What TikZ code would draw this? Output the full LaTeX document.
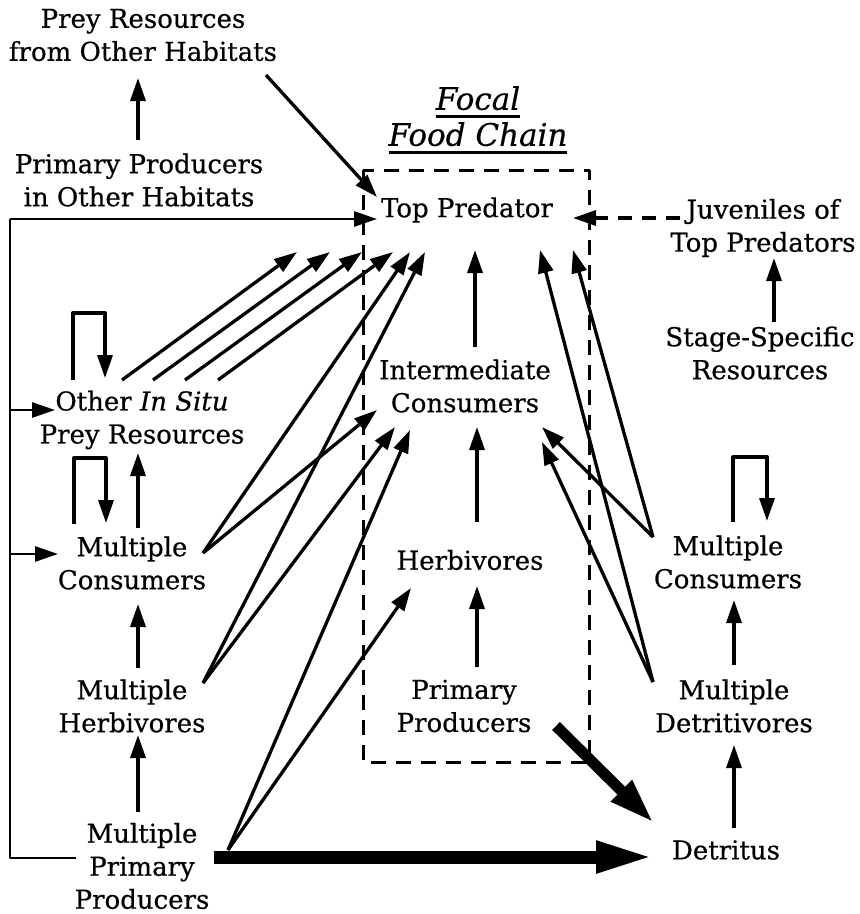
\documentclass[tikz,border=0pt]{standalone}
\usepackage{fontspec}
\setmainfont[FakeBold=0.5]{DejaVu Serif}
\usetikzlibrary{arrows.meta}
\newcommand{\webfont}{\fontsize{26}{33}\selectfont}
\newcommand{\ulbar}[1]{\setbox0\hbox{#1}\rlap{\rule[-8pt]{\wd0}{3pt}}\box0}
\begin{document}
\begin{tikzpicture}[x=1pt,y=-1pt,>={Triangle[length=23pt,width=15pt]},line join=round,line width=3.3pt,font=\webfont,
	every node/.style={align=center,inner sep=1pt},
	box/.style={dash pattern=on 15pt off 10pt},
	fat/.style={line width=13pt,line cap=butt,-{Triangle[length=58pt,width=29pt]}},
	semifat/.style={line width=11pt,line cap=butt,-{Triangle[length=46pt,width=27pt]}}]
	\useasboundingbox (0,0) rectangle (860,914);
	% the food web
	\node (preyO) at (143,35) {Prey Resources\\from Other Habitats};
	\node (prodO) at (139,180) {Primary Producers\\in Other Habitats};
	\node[font=\fontsize{31}{36}\selectfont\itshape] (focal) at (478,120) {\ulbar{Focal}\\\ulbar{Food Chain}};
	\node (top) at (467,210) {Top Predator};
	\node (juv) at (763,228) {Juveniles of\\Top Predators};
	\node (stage) at (760,353) {Stage-Specific\\Resources};
	\node (inter) at (465,386) {Intermediate\\Consumers};
	\node (insitu) at (142,420) {Other \textit{In Situ}\\Prey Resources};
	\node (consL) at (132,563) {Multiple\\Consumers};
	\node (herb) at (470,560) {Herbivores};
	\node (consR) at (728,562) {Multiple\\Consumers};
	\node (herbL) at (132,706) {Multiple\\Herbivores};
	\node (prim) at (464,706) {Primary\\Producers};
	\node (detr) at (734,706) {Multiple\\Detritivores};
	\node (prodL) at (142,866) {Multiple\\Primary\\Producers};
	\node (detritus) at (726,850) {Detritus};
	\path 
	(138,140)coordinate (v1) (138,78)coordinate (w1)
	(138,528)coordinate (v2) (138,453)coordinate (w2)
	(138,668)coordinate (v3) (138,604)coordinate (w3)
	(138,812)coordinate (v4) (138,735)coordinate (w4)
	(475,347)coordinate (v5) (475,250)coordinate (w5)
	(477,522)coordinate (v6) (477,427)coordinate (w6)
	(477,667)coordinate (v7) (477,586)coordinate (w7)
	(774,322)coordinate (v8) (774,258)coordinate (w8)
	(734,665)coordinate (v9) (734,600)coordinate (w9)
	(734,828)coordinate (v10) (734,745)coordinate (w10)
	(203,553)coordinate (pL) (203,683)coordinate (hL) (228,850)coordinate (ppL)
	(653,537)coordinate (pR) (653,682)coordinate (dR)
	(122,380)coordinate (s1) (153,380)coordinate (s2) (185,380)coordinate (s3) (218,380)coordinate (s4)
	(297,252)coordinate (t1) (330,252)coordinate (t2) (362,252)coordinate (t3) (393,252)coordinate (t4)
	(410,252)coordinate (t5) (425,252)coordinate (t6) (540,250)coordinate (t7) (573,250)coordinate (t8)
	(377,410)coordinate (i1) (395,427)coordinate (i2) (410,430)coordinate (i3)
	(542,427)coordinate (i4) (542,442)coordinate (i5) (411,588)coordinate (h1)
	(266,75)coordinate (pO) (377,197)coordinate (tp)
	(680,218)coordinate (jv) (573,218)coordinate (tj)
	(76,858)coordinate (f0) (10,858)coordinate (f1) (10,219)coordinate (f2) (377,219)coordinate (ft)
	(10,410)coordinate (f3) (55,410)coordinate (fi) (10,554)coordinate (f4) (58,554)coordinate (fc)
	(214,857)coordinate (dL) (654,857)coordinate (dt) (556,726)coordinate (dP) (654,823)coordinate (dd)
	;
	% chains upward
	\foreach \i in {1,...,10}\draw[->] (v\i)--(w\i);
	\draw[->] (pO)--(tp);
	\draw[->,dash pattern=on 14pt off 10pt] (jv)--(tj);
	% supply from the left
	\draw[line width=2.8pt] (f0)--(f1)--(f2);
	\draw[->,line width=2.8pt] (f2)--(ft);
	\draw[->,line width=2.8pt] (f3)--(fi);
	\draw[->,line width=2.8pt] (f4)--(fc);
	% loops
	\draw[->] (73,380)--(73,313)--(105,313)--(105,378);
	\draw[->] (74,524)--(74,458)--(106,458)--(106,523);
	\draw[->] (733,522)--(733,457)--(767,457)--(767,521);
	% feeding links
	\foreach \i in {1,...,4}\draw[->] (s\i)--(t\i);
	\foreach \a/\b in {pL/t5,pL/i1,hL/t6,hL/i2,ppL/i3,ppL/h1,pR/t8,pR/i4,dR/t7,dR/i5}\draw[->] (\a)--(\b);
	% detritus
	\draw[fat] (dL)--(dt);
	\draw[semifat] (dP)--(dd);
	\draw[box,line width=3pt] (363,170) rectangle (589,762);
\end{tikzpicture}
\end{document}
